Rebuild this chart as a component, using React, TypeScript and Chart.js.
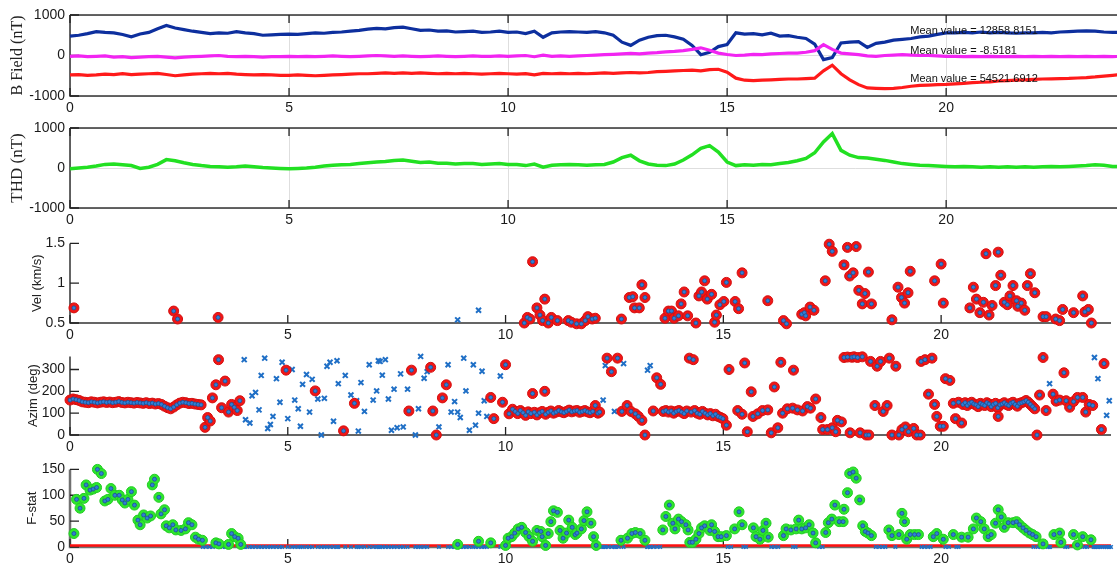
import { useEffect, useRef } from "react";
import { Chart, registerables } from "chart.js";

Chart.register(...registerables);

type Pair = [number, number];

// ---------- time axis ----------
const HOUR_MAX = 23.9;
const hourTicks = [0, 5, 10, 15, 20];
// 0.2 h sampling grid for the magnetometer traces
const fieldHours = Array.from({ length: 121 }, (_, i) => Math.round(i * 2) / 10);

// ---------- magnetometer components (nT, mean removed) ----------
const fieldTicks = [-1000, 0, 1000];
const fieldX = [
  480, 500, 540, 590, 570, 560, 520, 460, 530, 570,
  660, 740, 680, 640, 600, 570, 540, 560, 550, 590,
  560, 540, 500, 510, 520, 530, 520, 540, 560, 550,
  570, 580, 600, 620, 650, 670, 660, 690, 700, 660,
  620, 630, 600, 610, 580, 590, 600, 570, 580, 600,
  570, 580, 540, 600, 450, 560, 580, 590, 580, 570,
  590, 560, 500, 330, 250, 380, 450, 490, 500, 460,
  400, 250, 20, 80, 220, 270, 560, 530, 540, 510,
  550, 480, 490, 450, 420, 280, -100, -50, 310, 330,
  340, 200, 300, 330, 380, 400, 420, 460, 480, 520,
  560, 560, 570, 560, 580, 560, 570, 560, 550, 560,
  560, 570, 560, 580, 590, 600, 610, 600, 580, 570,
  570,
];
const fieldY = [
  -20, -10, -30, -20, -10, -40, -30, -50, -40, -30,
  -20, -40, -60, -40, -30, -20, -10, 0, -20, -30,
  -20, -30, -40, -30, -30, -20, -30, -20, -30, -20,
  -10, -20, -30, -20, -10, 0, -10, -20, -10, -20,
  -30, -20, -10, -20, -30, -20, -10, -20, -20, -10,
  -20, -10, 0, -30, 10, -20, -10, -20, -10, 0,
  10, 20, 30, 40, 50, 40, 60, 70, 90, 100,
  120, 150, 190, 130, 60, 25, 0, 10, 30, 20,
  40, 50, 60, 60, 80, 120, 270, 150, 60, 40,
  20, -10, -20, 0, 10, 20, 10, 0, 0, -10,
  -20, -20, -30, -20, -30, -20, -30, -30, -20, -30,
  -20, -30, -20, -30, -20, -30, -20, -30, -20, -30,
  -20,
];
const fieldZ = [
  -480, -470, -490, -480, -460, -470, -450, -470, -460, -450,
  -440, -470, -500, -480, -460, -450, -440, -450, -440, -460,
  -470, -480, -470, -480, -490, -490, -480, -490, -500, -490,
  -480, -470, -460, -450, -450, -440, -430, -440, -430, -440,
  -430, -440, -450, -440, -450, -440, -450, -460, -450, -440,
  -450, -460, -450, -480, -440, -450, -440, -450, -440, -450,
  -440, -430, -440, -430, -420, -430, -420, -400, -390, -380,
  -370, -360, -380, -350, -340, -410, -560, -610, -620, -610,
  -600, -590, -580, -580, -570, -560, -380, -240, -450, -600,
  -720, -800, -810, -820, -810, -790, -760, -740, -730, -720,
  -715, -700, -690, -670, -660, -650, -630, -620, -610, -600,
  -590, -580, -575, -570, -565, -555, -545, -530, -510, -490,
  -470,
];
const fieldMeanLabels = [
  "Mean value = 12858.8151",
  "Mean value = -8.5181",
  "Mean value = 54521.6912",
];

// ---------- total horizontal disturbance (nT) ----------
const thd = [
  -20, 0, 20, 50, 90, 100, 80, 60, -10, 20,
  90, 210, 180, 130, 90, 60, 40, 30, 20, 30,
  50, 30, 10, 0, -10, -20, -10, 0, 20, 50,
  70, 80, 90, 110, 130, 150, 160, 190, 200, 170,
  140, 150, 120, 120, 100, 110, 110, 90, 100, 110,
  90, 90, 60, 100, 20, 70, 80, 90, 80, 70,
  80, 90, 150, 260, 320, 180, 100, 70, 60, 100,
  200, 330, 490, 560, 400, 150, 60, 80, 70, 90,
  80, 110, 140, 180, 240, 380, 650, 860, 440, 320,
  260, 250, 220, 190, 150, 110, 90, 70, 60, 50,
  40, 30, 40, 30, 20, 30, 20, 30, 20, 30,
  20, 30, 40, 30, 40, 50, 60, 80, 70, 40,
  30,
];

// ---------- apparent velocity (km/s) ----------
const velTicks = [0.5, 1, 1.5];
const velDetected: Pair[] = [
  [0.09, 0.69], [2.38, 0.65], [2.47, 0.55], [3.4, 0.57],
  [10.43, 0.5], [10.5, 0.57], [10.56, 0.55], [10.62, 1.27], [10.72, 0.69], [10.79, 0.6],
  [10.85, 0.53], [10.9, 0.8], [10.98, 0.5], [11.05, 0.57], [11.19, 0.53], [11.44, 0.53],
  [11.51, 0.51], [11.63, 0.49], [11.74, 0.49], [11.83, 0.53], [11.89, 0.58], [11.99, 0.55],
  [12.06, 0.56], [12.66, 0.55], [12.84, 0.82], [12.92, 0.83], [12.96, 0.69], [13.07, 0.69],
  [13.13, 0.98], [13.2, 0.82], [13.66, 0.56], [13.74, 0.65], [13.81, 0.65], [13.87, 0.56],
  [13.97, 0.59], [14.03, 0.74], [14.1, 0.89], [14.18, 0.59], [14.37, 0.5], [14.44, 0.84],
  [14.5, 0.89], [14.57, 1.03], [14.63, 0.8], [14.73, 0.86], [14.8, 0.51], [14.84, 0.6],
  [14.92, 0.73], [15.01, 0.77], [15.07, 1.01], [15.27, 0.77], [15.35, 0.68], [15.43, 1.13],
  [16.02, 0.78], [16.38, 0.53], [16.45, 0.49], [16.8, 0.61], [16.86, 0.63], [16.89, 0.59],
  [16.99, 0.7], [17.08, 0.66], [17.34, 1.03], [17.43, 1.49], [17.5, 1.4], [17.77, 1.23],
  [17.85, 1.45], [17.9, 1.09], [17.98, 1.13], [18.05, 1.46], [18.11, 0.91], [18.19, 0.74],
  [18.25, 0.87], [18.33, 1.14], [18.4, 0.74], [18.87, 0.54], [19.01, 0.95], [19.09, 0.82],
  [19.16, 0.75], [19.24, 0.88], [19.29, 1.15], [19.85, 1.03], [20.0, 1.24], [20.05, 0.75],
  [20.66, 0.69], [20.74, 0.95], [20.81, 0.8], [20.89, 0.63], [20.97, 0.76], [21.03, 1.37],
  [21.1, 0.6], [21.17, 0.72], [21.25, 0.97], [21.31, 1.39], [21.37, 1.1], [21.45, 0.76],
  [21.52, 0.73], [21.58, 0.84], [21.65, 0.97], [21.73, 0.78], [21.76, 0.71], [21.84, 0.75],
  [21.92, 0.66], [21.98, 0.97], [22.05, 1.12], [22.15, 0.88], [22.34, 0.58], [22.41, 0.58],
  [22.63, 0.55], [22.72, 0.53], [22.79, 0.67], [23.04, 0.63], [23.25, 0.84], [23.3, 0.64],
  [23.38, 0.67], [23.45, 0.5],
];
const velUndetected: Pair[] = [[8.9, 0.54], [9.38, 0.66]];

// ---------- azimuth (deg) ----------
const azimTicks = [0, 100, 200, 300];
const azimDetected: Pair[] = [
  [0, 160], [0.07, 165], [0.14, 162], [0.21, 158], [0.28, 152], [0.35, 150], [0.42, 148],
  [0.49, 152], [0.56, 150], [0.63, 147], [0.7, 150], [0.77, 152], [0.84, 149], [0.91, 151],
  [0.98, 148], [1.05, 150], [1.12, 153], [1.19, 149], [1.26, 147], [1.33, 150], [1.4, 148],
  [1.47, 146], [1.54, 149], [1.61, 147], [1.68, 145], [1.75, 148], [1.82, 144], [1.89, 146],
  [1.96, 142], [2.03, 144], [2.1, 140], [2.17, 132], [2.24, 125], [2.31, 120], [2.38, 128],
  [2.45, 138], [2.52, 146], [2.59, 150], [2.66, 148], [2.73, 144], [2.8, 145], [2.87, 142],
  [2.94, 140], [3.01, 138],
  [3.1, 35], [3.16, 80], [3.22, 64], [3.27, 170], [3.35, 230], [3.41, 345], [3.48, 125],
  [3.56, 247], [3.64, 105], [3.71, 140], [3.77, 127], [3.84, 112], [3.9, 157], [4.96, 297],
  [5.63, 202], [6.28, 19], [6.53, 145], [7.78, 110], [7.84, 297], [8.28, 310], [8.33, 110],
  [8.41, 0], [8.55, 170], [8.64, 230], [9.66, 172], [9.73, 75], [9.93, 150], [10.0, 322],
  [10.08, 97], [10.16, 118], [10.22, 108], [10.28, 98], [10.34, 112], [10.4, 102], [10.46, 90],
  [10.52, 106], [10.58, 98], [10.62, 190], [10.66, 104], [10.72, 92], [10.78, 102], [10.84, 108],
  [10.9, 200], [10.92, 95], [10.98, 104], [11.04, 110], [11.1, 100], [11.16, 105], [11.22, 112],
  [11.28, 106], [11.34, 102], [11.4, 108], [11.46, 114], [11.52, 106], [11.58, 110], [11.64, 112],
  [11.7, 104], [11.76, 108], [11.82, 112], [11.88, 106], [11.94, 102], [12.0, 108], [12.06, 135],
  [12.12, 100], [12.16, 105],
  [12.33, 352], [12.43, 290], [12.57, 352], [12.67, 108], [12.79, 135], [12.88, 108], [12.98, 97],
  [13.05, 85], [13.13, 67], [13.2, 0], [13.39, 110], [13.47, 262], [13.56, 232],
  [13.62, 108], [13.68, 112], [13.74, 105], [13.8, 110], [13.86, 100], [13.92, 108], [13.98, 112],
  [14.04, 105], [14.1, 98], [14.16, 110], [14.22, 352], [14.26, 105], [14.31, 345], [14.34, 112],
  [14.4, 100], [14.46, 95], [14.52, 108], [14.58, 100], [14.64, 92], [14.7, 98], [14.76, 88],
  [14.82, 95], [14.88, 85], [14.94, 80], [14.99, 75], [15.07, 45], [15.13, 300],
  [15.33, 112], [15.43, 95], [15.49, 330], [15.55, 15], [15.64, 198], [15.68, 85], [15.79, 97],
  [15.9, 112], [16.02, 115], [16.1, 10], [16.17, 220], [16.25, 33], [16.32, 333], [16.36, 100],
  [16.47, 120], [16.59, 123], [16.61, 297], [16.7, 115], [16.82, 110], [16.93, 130], [17.0, 123],
  [17.12, 165], [17.24, 80], [17.28, 25], [17.39, 25], [17.5, 33], [17.58, 15], [17.62, 67],
  [17.71, 60], [17.77, 355], [17.85, 357], [17.91, 10], [17.95, 356], [18.0, 358], [18.08, 355],
  [18.14, 10], [18.19, 358], [18.28, 0], [18.34, 0], [18.38, 337], [18.48, 135], [18.53, 315],
  [18.61, 337], [18.67, 108], [18.76, 135], [18.81, 352], [18.87, 0], [18.96, 315], [19.03, 0],
  [19.1, 25], [19.18, 37], [19.25, 15], [19.37, 30], [19.44, 0], [19.52, 0], [19.54, 337],
  [19.63, 345], [19.71, 187], [19.79, 352], [19.85, 140], [19.9, 85], [19.98, 40], [20.05, 40],
  [20.1, 258], [20.2, 250], [20.28, 145], [20.33, 75], [20.4, 150], [20.47, 55],
  [20.5, 140], [20.55, 148], [20.6, 135], [20.65, 145], [20.7, 150], [20.75, 142], [20.8, 138],
  [20.85, 130], [20.9, 145], [20.95, 140], [21.0, 135], [21.05, 148], [21.1, 142], [21.15, 130],
  [21.2, 140], [21.25, 145], [21.3, 125], [21.31, 85], [21.35, 138], [21.4, 142], [21.45, 148],
  [21.5, 140], [21.55, 135], [21.6, 145], [21.65, 150], [21.7, 140], [21.75, 132], [21.8, 145],
  [21.85, 148], [21.9, 152], [21.95, 158], [22.0, 150], [22.05, 140], [22.1, 130], [22.15, 120],
  [22.2, 0], [22.26, 183], [22.34, 355], [22.41, 112], [22.57, 187], [22.64, 155], [22.72, 160],
  [22.82, 285], [22.87, 157], [22.95, 127], [23.04, 153], [23.13, 172], [23.25, 172], [23.32, 105],
  [23.4, 140], [23.48, 135], [23.68, 25], [23.74, 327],
];
const azimUndetected: Pair[] = [
  [4.0, 345], [4.03, 70], [4.13, 55], [4.18, 180], [4.26, 195], [4.34, 115], [4.39, 273],
  [4.47, 352], [4.54, 30], [4.6, 48], [4.66, 85], [4.74, 258], [4.82, 150], [4.87, 333],
  [5.0, 75], [5.1, 300], [5.16, 160], [5.24, 120], [5.29, 40], [5.34, 232], [5.43, 277],
  [5.5, 105], [5.56, 255], [5.69, 165], [5.77, 0], [5.84, 168], [5.9, 315], [5.97, 333],
  [6.05, 63], [6.13, 340], [6.16, 235], [6.32, 273], [6.45, 183], [6.58, 157], [6.62, 18],
  [6.68, 240], [6.76, 108], [6.87, 322], [6.96, 160], [7.04, 202], [7.08, 340], [7.12, 337],
  [7.17, 274], [7.24, 345], [7.31, 165], [7.38, 22], [7.44, 210], [7.51, 33], [7.59, 280],
  [7.65, 37], [7.75, 210], [7.93, 0], [8.0, 120], [8.05, 360], [8.13, 260], [8.2, 290],
  [8.47, 37], [8.68, 322], [8.75, 105], [8.83, 153], [8.9, 105], [8.96, 80], [9.04, 352],
  [9.09, 202], [9.17, 22], [9.26, 322], [9.31, 45], [9.38, 100], [9.46, 292], [9.51, 157],
  [9.57, 85], [9.88, 270],
  [12.24, 160], [12.29, 318], [12.5, 108], [12.71, 327], [13.26, 297], [13.32, 318],
  [22.49, 235], [23.52, 355], [23.6, 258], [23.8, 90], [23.86, 157],
];

// ---------- F-statistic ----------
const fstatTicks = [0, 50, 100, 150];
const fstatThreshold = 3;
const fstatDetected: Pair[] = [
  [0.09, 26], [0.15, 92], [0.23, 75], [0.32, 94], [0.37, 120], [0.46, 110], [0.53, 112],
  [0.61, 115], [0.63, 150], [0.72, 142], [0.8, 89], [0.87, 92], [0.94, 113], [1.03, 100],
  [1.13, 100], [1.2, 91], [1.26, 85], [1.33, 92], [1.41, 107], [1.48, 81], [1.56, 52],
  [1.61, 43], [1.69, 62], [1.77, 56], [1.85, 60], [1.89, 120], [1.94, 131], [2.04, 96],
  [2.09, 64], [2.17, 72], [2.21, 41], [2.28, 37], [2.36, 43], [2.43, 33], [2.55, 32],
  [2.65, 35], [2.72, 47], [2.8, 43], [2.88, 19], [2.95, 15], [3.04, 13], [3.35, 8],
  [3.42, 6], [3.64, 5], [3.71, 26], [3.78, 20], [3.86, 17], [3.92, 5],
  [8.9, 5], [9.38, 11], [9.66, 8], [10.0, 3], [10.06, 17], [10.14, 20], [10.21, 27],
  [10.29, 35], [10.37, 38], [10.46, 28], [10.54, 20], [10.62, 11], [10.72, 32], [10.81, 30],
  [10.84, 20], [10.92, 3], [10.98, 26], [11.04, 49], [11.1, 70], [11.19, 67], [11.25, 32],
  [11.32, 17], [11.4, 27], [11.45, 52], [11.53, 38], [11.6, 24], [11.64, 27], [11.74, 35],
  [11.8, 51], [11.87, 68], [11.96, 46], [12.02, 20], [12.08, 3],
  [12.65, 13], [12.8, 17], [12.9, 26], [12.98, 28], [13.09, 26], [13.2, 13],
  [13.61, 33], [13.68, 59], [13.76, 81], [13.84, 46], [13.89, 35], [13.97, 54], [14.04, 49],
  [14.14, 43], [14.19, 33], [14.23, 9], [14.29, 9], [14.37, 15], [14.44, 26], [14.5, 37],
  [14.57, 41], [14.69, 32], [14.73, 43], [14.8, 30], [14.88, 20], [14.95, 20], [15.07, 22],
  [15.26, 35], [15.36, 68], [15.43, 43],
  [15.69, 37], [15.75, 20], [15.84, 15], [15.91, 32], [15.98, 46], [16.03, 19], [16.38, 22],
  [16.44, 35], [16.55, 33], [16.67, 35], [16.73, 52], [16.8, 35], [16.89, 37], [16.97, 43],
  [17.06, 27], [17.12, 8], [17.35, 28], [17.41, 47], [17.49, 54], [17.56, 81], [17.66, 49],
  [17.75, 49], [17.77, 73], [17.85, 105], [17.9, 142], [17.98, 145], [18.05, 133], [18.13, 91],
  [18.2, 41], [18.26, 30], [18.32, 27], [18.4, 22],
  [18.8, 33], [18.87, 22], [19.03, 24], [19.1, 65], [19.16, 49], [19.21, 15], [19.29, 24],
  [19.39, 24], [19.48, 24], [19.82, 20], [19.9, 26], [20.05, 15], [20.28, 24], [20.47, 19],
  [20.62, 19], [20.74, 35], [20.81, 56], [20.91, 49], [20.99, 35], [21.08, 20], [21.15, 24],
  [21.25, 46], [21.31, 72], [21.38, 58], [21.45, 38], [21.54, 47], [21.65, 47], [21.73, 49],
  [21.8, 43], [21.88, 37], [21.95, 32], [22.03, 27], [22.1, 24], [22.18, 20], [22.34, 6],
  [22.59, 24], [22.72, 27], [22.75, 9], [23.04, 24], [23.13, 4], [23.25, 20], [23.44, 14],
];
// hours with no coherent arrival (F-stat below threshold), besides the azimuth non-detections
const fstatQuietHours = [
  3.05, 3.12, 3.2, 3.28, 3.5, 3.57, 3.96, 12.12, 12.2, 12.28, 12.36, 12.44, 12.52, 12.6,
  13.25, 13.32, 13.4, 13.48, 13.55, 15.1, 15.18, 15.46, 15.52, 16.1, 16.18, 16.26, 16.6,
  16.66, 17.2, 17.28, 18.5, 18.58, 18.66, 18.72, 18.95, 19.55, 19.62, 19.7, 19.76, 20.1,
  20.18, 20.35, 20.4, 22.12, 22.22, 22.28, 22.45, 22.5, 22.85, 22.9, 23.1, 23.2, 23.3,
  23.35, 23.5, 23.55, 23.6, 23.65, 23.7, 23.75, 23.8, 23.85, 23.9,
];

// ---------- styling ----------
const W = 1117;
const SANS = "'Liberation Sans', Arial, Helvetica, sans-serif";
const SERIF = "'Liberation Serif', 'Times New Roman', serif";
const RED = "#f01616";
const INNER_BLUE = "#2f7fd6";
const CROSS_BLUE = "#1f6fc6";
const GREEN = "#2ee62e";

const toXY = (pairs: Pair[]) => pairs.map(([x, y]) => ({ x, y }));
const seriesXY = (vals: number[]) => vals.map((y, i) => ({ x: fieldHours[i], y }));

const lineDs = (vals: number[], color: string, width: number, order: number) => ({
  data: seriesXY(vals),
  showLine: true,
  borderColor: color,
  borderWidth: width,
  pointRadius: 0,
  tension: 0,
  order,
  clip: false as const,
});

const detectionDs = (pairs: Pair[], fill: string) => [
  {
    data: toXY(pairs),
    pointStyle: "circle",
    pointRadius: 2,
    backgroundColor: INNER_BLUE,
    borderColor: "#1d4f96",
    borderWidth: 0.8,
    order: 0,
    clip: false as const,
  },
  {
    data: toXY(pairs),
    pointStyle: "circle",
    pointRadius: 5,
    backgroundColor: fill,
    borderColor: fill === RED ? "#d40f0f" : "#22cc22",
    borderWidth: 1,
    order: 1,
    clip: false as const,
  },
];

const crossDs = (pairs: Pair[], r: number, w: number) => ({
  data: toXY(pairs),
  pointStyle: "crossRot",
  pointRadius: r,
  borderColor: CROSS_BLUE,
  backgroundColor: CROSS_BLUE,
  borderWidth: w,
  order: 2,
  clip: false as const,
});

type PanelDef = {
  top: number;
  height: number;
  padTop: number;
  axisH: number;
  yMin: number;
  yMax: number;
  yTicks: number[];
  boxed: boolean;
  grid: boolean;
  axisColor: string;
  axisWidth: number;
  title: string;
  titleFont: string;
  titleX: number;
  datasets: any[];
  overlay?: (chart: Chart) => void;
};

const meanLabelAnchors: Pair[] = [[19.18, 610], [19.18, 110], [19.18, -580]];

const panels: PanelDef[] = [
  {
    top: 0, height: 114, padTop: 15, axisH: 18,
    yMin: -1000, yMax: 1000, yTicks: fieldTicks,
    boxed: true, grid: true, axisColor: "#333", axisWidth: 1.5,
    title: "B Field (nT)", titleFont: `16px ${SERIF}`, titleX: 18,
    datasets: [
      lineDs(fieldX, "#0d2f9e", 3.2, 3),
      lineDs(fieldY, "#f224f2", 3.2, 2),
      lineDs(fieldZ, "#ff1a1a", 3.2, 1),
    ],
    overlay: (chart) => {
      const { ctx, scales } = chart;
      ctx.save();
      ctx.font = `11px ${SANS}`;
      ctx.fillStyle = "#111";
      ctx.textAlign = "left";
      ctx.textBaseline = "middle";
      fieldMeanLabels.forEach((txt, i) => {
        const [hx, v] = meanLabelAnchors[i];
        ctx.fillText(txt, scales.x.getPixelForValue(hx), scales.y.getPixelForValue(v));
      });
      ctx.restore();
    },
  },
  {
    top: 114, height: 116, padTop: 14, axisH: 22,
    yMin: -1000, yMax: 1000, yTicks: fieldTicks,
    boxed: true, grid: true, axisColor: "#333", axisWidth: 1.5,
    title: "THD (nT)", titleFont: `17px ${SERIF}`, titleX: 18,
    datasets: [lineDs(thd, "#22e022", 3.5, 1)],
  },
  {
    top: 230, height: 113, padTop: 11, axisH: 20,
    yMin: 0.5, yMax: 1.5, yTicks: velTicks,
    boxed: false, grid: false, axisColor: "#333", axisWidth: 1.5,
    title: "Vel (km/s)", titleFont: `13px ${SANS}`, titleX: 37,
    datasets: [...detectionDs(velDetected, RED), crossDs(velUndetected, 3.5, 2)],
  },
  {
    top: 343, height: 113, padTop: 12, axisH: 21,
    yMin: 0, yMax: 360, yTicks: azimTicks,
    boxed: false, grid: false, axisColor: "#333", axisWidth: 1.5,
    title: "Azim (deg)", titleFont: `13px ${SANS}`, titleX: 33,
    datasets: [...detectionDs(azimDetected, RED), crossDs(azimUndetected, 3.5, 2)],
  },
  {
    top: 456, height: 113, padTop: 13, axisH: 22,
    yMin: 0, yMax: 150, yTicks: fstatTicks,
    boxed: false, grid: false, axisColor: "#707070", axisWidth: 2.5,
    title: "F-stat", titleFont: `13px ${SANS}`, titleX: 32,
    datasets: [
      ...detectionDs(fstatDetected, GREEN),
      {
        data: [
          { x: 0, y: fstatThreshold },
          { x: HOUR_MAX, y: fstatThreshold },
        ],
        showLine: true,
        borderColor: "#ff1010",
        borderWidth: 2.5,
        pointRadius: 0,
        order: 3,
        clip: false as const,
      },
      crossDs(
        [
          ...azimUndetected.map(([h]) => [h, 0] as Pair),
          ...fstatQuietHours.map((h) => [h, 0] as Pair),
        ],
        2.5,
        1.5
      ),
    ],
  },
];

const framePlugin = (def: PanelDef) => ({
  id: "frame",
  beforeDatasetsDraw(chart: Chart) {
    const { ctx, chartArea: a, scales } = chart;
    ctx.save();
    ctx.strokeStyle = def.axisColor;
    ctx.lineWidth = def.axisWidth;
    ctx.beginPath();
    ctx.moveTo(a.left, a.top);
    ctx.lineTo(a.left, a.bottom);
    ctx.lineTo(a.right, a.bottom);
    if (def.boxed) {
      ctx.moveTo(a.left, a.top);
      ctx.lineTo(a.right, a.top);
    }
    ctx.stroke();

    ctx.strokeStyle = "#222";
    ctx.lineWidth = 1.3;
    ctx.beginPath();
    hourTicks.forEach((h) => {
      const x = scales.x.getPixelForValue(h);
      ctx.moveTo(x, a.bottom);
      ctx.lineTo(x, a.bottom - 8);
      if (def.boxed) {
        ctx.moveTo(x, a.top);
        ctx.lineTo(x, a.top + 8);
      }
    });
    def.yTicks.forEach((v) => {
      const y = scales.y.getPixelForValue(v);
      ctx.moveTo(a.left, y);
      ctx.lineTo(a.left + 9, y);
    });
    ctx.stroke();

    ctx.translate(def.titleX, (a.top + a.bottom) / 2);
    ctx.rotate(-Math.PI / 2);
    ctx.font = def.titleFont;
    ctx.fillStyle = "#222";
    ctx.textAlign = "center";
    ctx.textBaseline = "middle";
    ctx.fillText(def.title, 0, 0);
    ctx.restore();
  },
  afterDatasetsDraw(chart: Chart) {
    if (def.overlay) def.overlay(chart);
  },
});

function Panel({ def }: { def: PanelDef }) {
  const ref = useRef<HTMLCanvasElement>(null);
  useEffect(() => {
    if (!ref.current) return;
    const tickFont = { family: SANS, size: 14 };
    const chart = new Chart(ref.current, {
      type: "scatter",
      data: { datasets: def.datasets },
      options: {
        animation: false,
        responsive: false,
        devicePixelRatio: 1,
        events: [],
        layout: { padding: { top: def.padTop, left: 0, right: 0, bottom: 0 } },
        plugins: { legend: { display: false }, tooltip: { enabled: false } },
        scales: {
          x: {
            type: "linear",
            min: 0,
            max: HOUR_MAX,
            afterBuildTicks: (s: any) => {
              s.ticks = hourTicks.map((value) => ({ value }));
            },
            afterFit: (s: any) => {
              s.height = def.axisH;
            },
            grid: { display: def.grid, color: "#dedede", lineWidth: 1, drawTicks: false },
            border: { display: false },
            ticks: {
              font: tickFont,
              color: "#1a1a1a",
              padding: 4,
              maxRotation: 0,
              autoSkip: false,
              callback: (v: any) => String(v),
            },
          },
          y: {
            type: "linear",
            min: def.yMin,
            max: def.yMax,
            afterBuildTicks: (s: any) => {
              s.ticks = def.yTicks.map((value) => ({ value }));
            },
            afterFit: (s: any) => {
              s.width = 70;
            },
            grid: { display: def.grid, color: "#dedede", lineWidth: 1, drawTicks: false },
            border: { display: false },
            ticks: {
              font: tickFont,
              color: "#1a1a1a",
              padding: 5,
              autoSkip: false,
              callback: (v: any) => String(v),
            },
          },
        },
      } as any,
      plugins: [framePlugin(def)],
    });
    return () => chart.destroy();
  }, [def]);
  return (
    <canvas
      ref={ref}
      width={W}
      height={def.height}
      style={{ position: "absolute", left: 0, top: def.top, width: W, height: def.height }}
    />
  );
}

export default function App() {
  return (
    <div
      style={{
        position: "absolute",
        left: 0,
        top: 0,
        width: W,
        height: 569,
        background: "#ffffff",
        overflow: "hidden",
      }}
    >
      {panels.map((p, i) => (
        <Panel key={i} def={p} />
      ))}
    </div>
  );
}
